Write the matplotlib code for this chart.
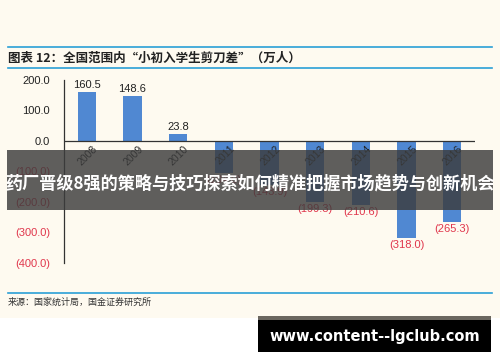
import matplotlib.pyplot as plt
from matplotlib.patches import Rectangle
from matplotlib.lines import Line2D

plt.rcParams['font.family'] = ['Liberation Sans', 'Noto Sans CJK SC', 'DejaVu Sans']

years = ['2008', '2009', '2010', '2011', '2012', '2013', '2014', '2015', '2016']
gap = [160.5, 148.6, 23.8, -104.0, -143.9, -199.3, -210.6, -318.0, -265.3]
yticks = [200, 100, 0, -100, -200, -300, -400]

W, H = 500, 362
fig = plt.figure(figsize=(W / 100, H / 100), dpi=100)
fig.patch.set_facecolor('white')

def fx(px):
    return px / W

def fy(py):
    return 1 - py / H

# cream page background
fig.patches.append(Rectangle((0, fy(318)), 1, 1 - fy(318), transform=fig.transFigure,
                             facecolor='#fefaf0', edgecolor='none', zorder=-5))

ax = fig.add_axes([fx(64), fy(263), fx(411), fy(80) - fy(263)])
ax.set_zorder(1)
ax.set_facecolor('none')
x = list(range(len(years)))
ax.bar(x, gap, width=0.4, color='#5088d2', zorder=2)
ax.axhline(0, color='#333333', lw=0.9, zorder=3)
ax.set_xlim(-0.5, len(years) - 0.5)
ax.set_ylim(-400, 200)
for s in ['top', 'right', 'bottom']:
    ax.spines[s].set_visible(False)
ax.spines['left'].set_color('#333333')
ax.spines['left'].set_linewidth(0.9)
ax.set_xticks([])
ax.set_yticks(yticks)
ax.set_yticklabels([f'{v:.1f}' if v >= 0 else f'({-v:.1f})' for v in yticks], fontsize=8)
for t, v in zip(ax.get_yticklabels(), yticks):
    t.set_color('#222222' if v >= 0 else '#e0364c')
ax.tick_params(axis='y', length=0, pad=10)

for xi, v, yr in zip(x, gap, years):
    if v >= 0:
        ax.text(xi, v + 6, f'{v:.1f}', ha='center', va='bottom', fontsize=8, color='#222222')
    else:
        ax.text(xi, v - 6, f'({-v:.1f})', ha='center', va='top', fontsize=8, color='#e0364c')
    ax.text(xi + 0.12, -8, yr, rotation=45, ha='right', va='top', fontsize=7.5, color='#222222',
            rotation_mode='anchor')

# header / footer rules
for py in [47, 68, 293]:
    fig.lines.append(Line2D([fx(8), fx(492)], [fy(py), fy(py)], transform=fig.transFigure,
                            color='#2a9fd6', lw=1.2))
fig.text(fx(8), fy(58), '图表 12：全国范围内“小初入学生剪刀差”（万人）', fontsize=9,
         fontweight='bold', style='italic', va='center', color='#222222',
         family=['Noto Sans CJK SC', 'DejaVu Sans'])
fig.text(fx(8), fy(302), '来源：国家统计局，国金证券研究所', fontsize=6.5, va='center',
         color='#333333', family=['Noto Sans CJK SC', 'DejaVu Sans'])

# overlay banner
fig.patches.append(Rectangle((fx(7), fy(210)), fx(486), fy(150) - fy(210), transform=fig.transFigure,
                             facecolor='#3c3c3c', alpha=0.82, edgecolor='none', zorder=10))
fig.text(0.5, fy(183), '药厂晋级8强的策略与技巧探索如何精准把握市场趋势与创新机会', fontsize=12.3,
         fontweight='bold', color='white', ha='center', va='center', zorder=11,
         family=['Noto Sans CJK SC', 'DejaVu Sans'])

# watermark box
fig.patches.append(Rectangle((fx(258), fy(320)), fx(233), fy(316) - fy(320), transform=fig.transFigure,
                             facecolor='#6b6760', edgecolor='none', zorder=10))
fig.patches.append(Rectangle((fx(258), fy(352)), fx(233), fy(320) - fy(352), transform=fig.transFigure,
                             facecolor='black', edgecolor='none', zorder=10))
fig.text(fx(375), fy(336), 'www.content--lgclub.com', fontsize=10.5, fontweight='bold',
         color='white', ha='center', va='center', zorder=11, family='DejaVu Sans')

fig.savefig('out.png', dpi=100)
